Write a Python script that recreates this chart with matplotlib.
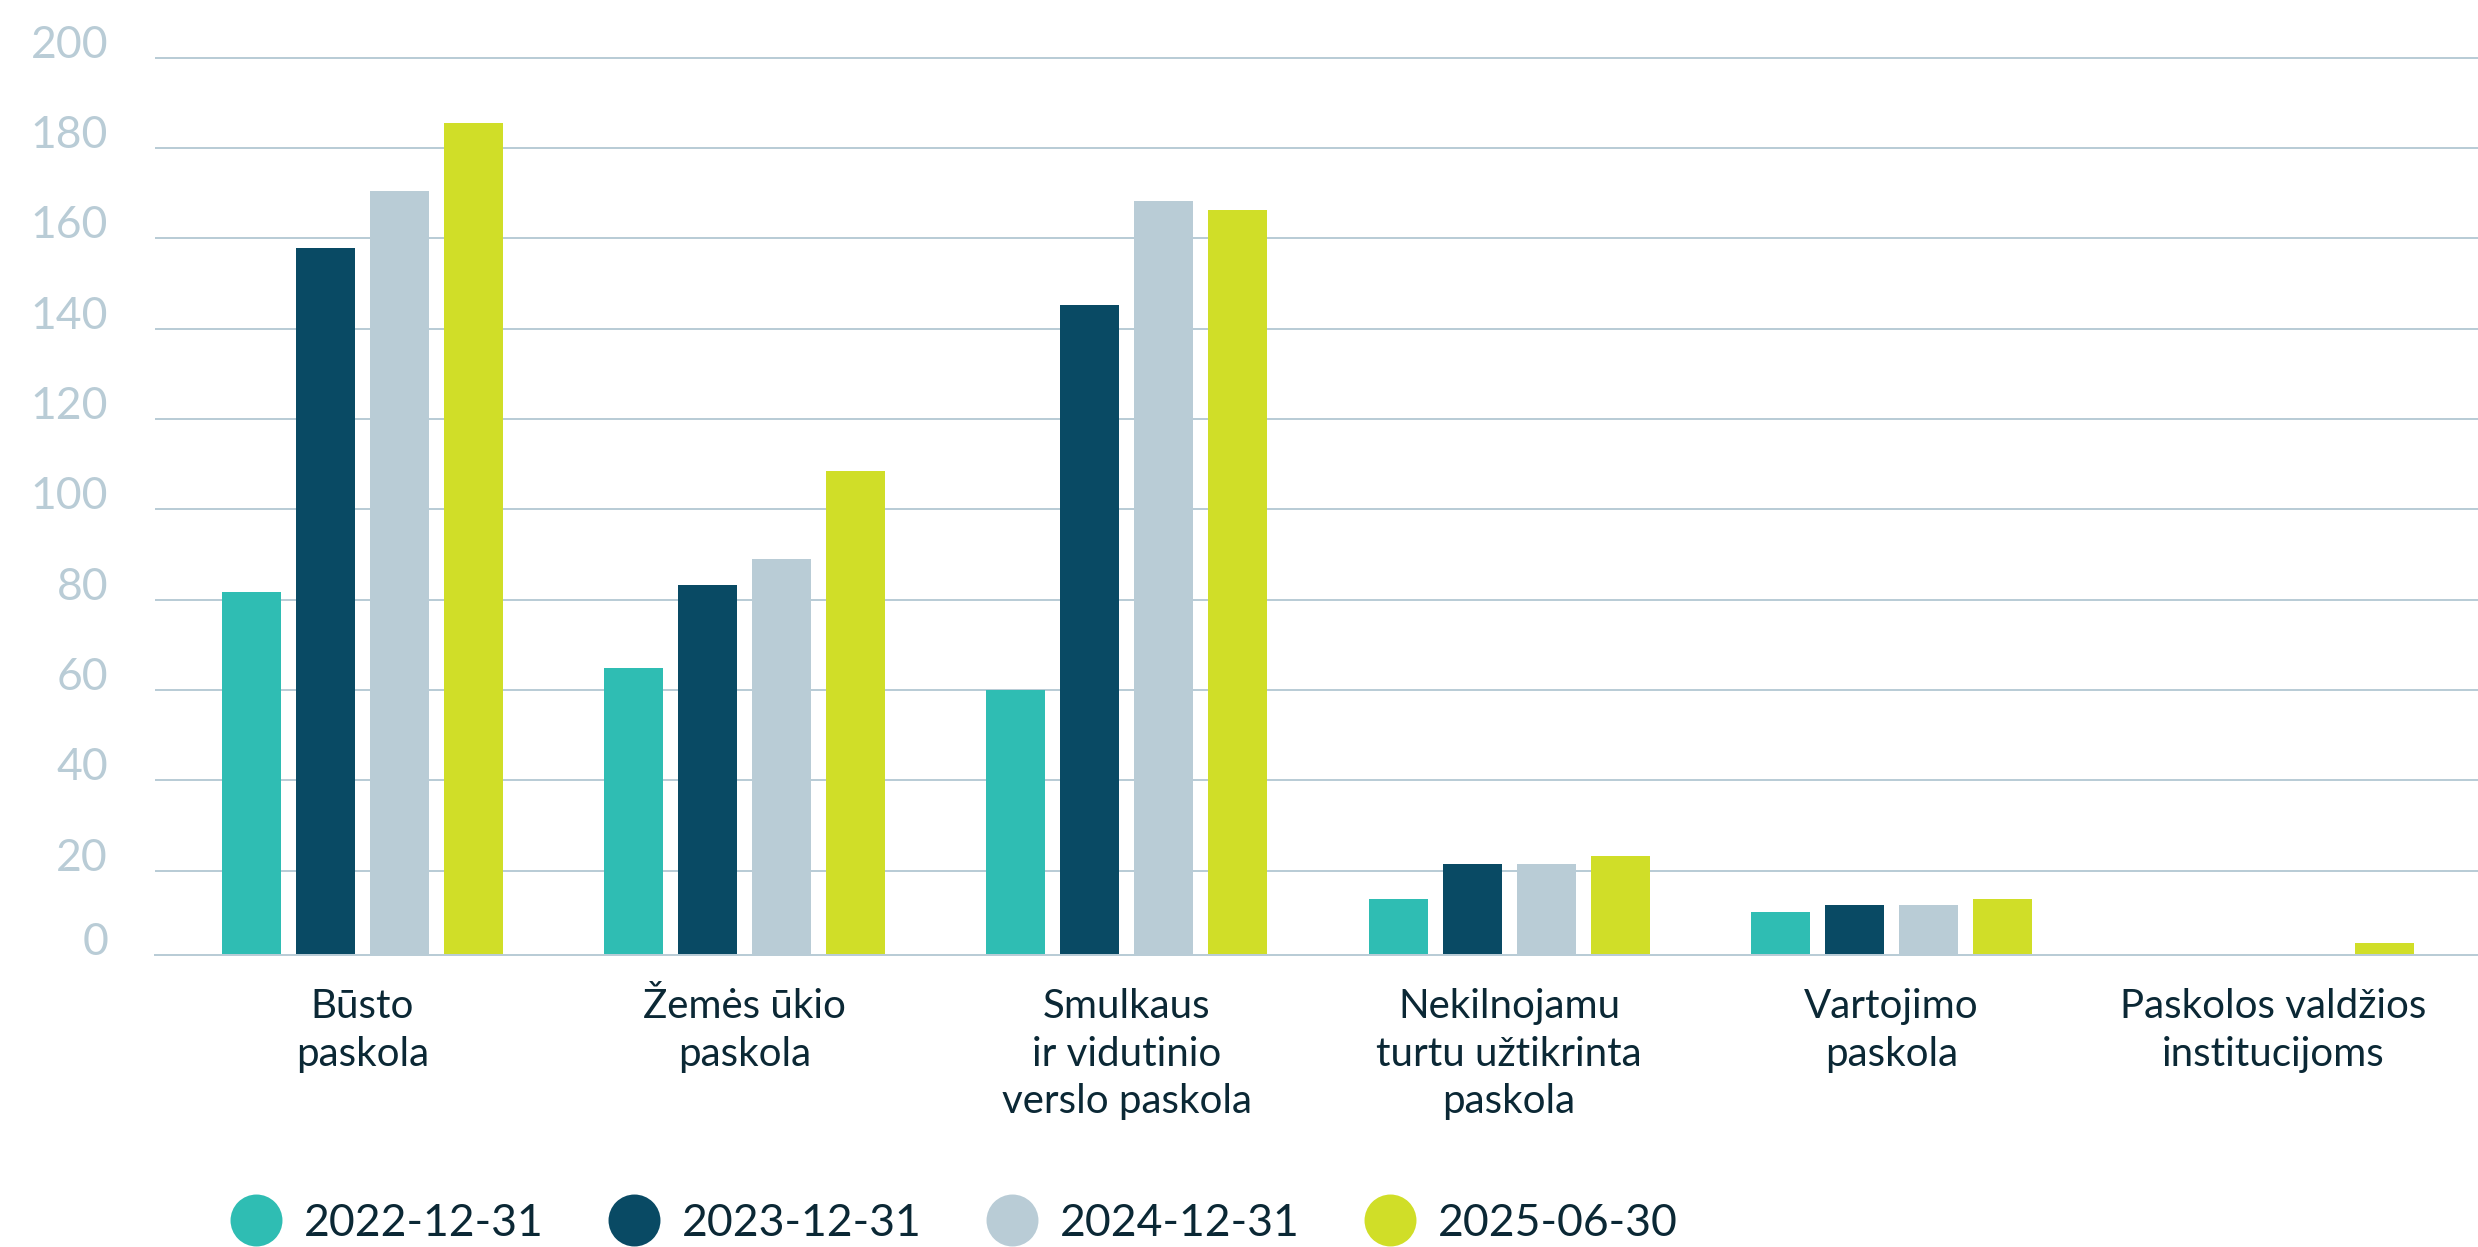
import matplotlib
matplotlib.use('Agg')
import numpy as np
import matplotlib.pyplot as plt
from matplotlib import transforms
from matplotlib.lines import Line2D

plt.rcParams['font.family'] = ['Lato', 'DejaVu Sans']
plt.rcParams['font.weight'] = 'normal'

# duomenys
categories = ['Būsto\npaskola', 'Žemės ūkio\npaskola', 'Smulkaus\nir vidutinio\nverslo paskola',
              'Nekilnojamu\nturtu užtikrinta\npaskola', 'Vartojimo\npaskola',
              'Paskolos valdžios\ninstitucijoms']
series_labels = ['2022-12-31', '2023-12-31', '2024-12-31', '2025-06-30']
v_2022 = [81.6, 64.8, 59.9, 13.7, 10.9, 0]
v_2023 = [157.9, 83.3, 145.2, 21.5, 12.4, 0]
v_2024 = [170.5, 88.9, 168.3, 21.5, 12.4, 0]
v_2025 = [185.5, 108.5, 166.2, 23.3, 13.7, 4.0]
y_ticks = [0, 20, 40, 60, 80, 100, 120, 140, 160, 180, 200]

colors = ['#2FBDB3', '#094A64', '#B9CCD6', '#D0DE28']
grid_col = '#B9CCD6'
text_col = '#0B2835'

fig = plt.figure(figsize=(24.78, 12.47), dpi=100)
ax = fig.add_axes([0.06255, 0.2344, 0.93745, 0.7267])

x = np.arange(len(categories))
width = 0.1544
step = 0.1936
for k, vals in enumerate([v_2022, v_2023, v_2024, v_2025]):
    ax.bar(x + (k - 1.5) * step, vals, width=width, color=colors[k], zorder=2)

ax.set_xlim(-0.543, 5.535)
ax.set_ylim(1.39, 202)

# y asis: etiketes ant linijos
tick_pos = [1.39] + y_ticks[1:]
ax.set_yticks(tick_pos)
ax.set_yticklabels([str(t) for t in y_ticks])
ax.tick_params(axis='y', length=0, pad=33.8, labelsize=32, labelcolor=grid_col)
for lab in ax.get_yticklabels():
    lab.set_verticalalignment('baseline')
ax.grid(axis='y', color=grid_col, linewidth=1.44)
ax.set_axisbelow(True)

ax.set_xticks(x)
ax.set_xticklabels([])
ax.tick_params(axis='x', length=0)

for s in ['left', 'right', 'top']:
    ax.spines[s].set_visible(False)
ax.spines['bottom'].set_color(grid_col)
ax.spines['bottom'].set_linewidth(1.44)

# kategoriju pavadinimai
trans = transforms.blended_transform_factory(ax.transData, ax.transAxes)
y0 = -0.0704
dy = 0.0522
for i, cat in enumerate(categories):
    for j, line in enumerate(cat.split('\n')):
        ax.text(i, y0 - j * dy, line, transform=trans, ha='center', va='baseline',
                fontsize=29, color=text_col)

# legenda
fs = 32
handles = [Line2D([], [], linestyle='none', marker='o', markersize=37.4,
                  markerfacecolor=c, markeredgewidth=0) for c in colors]
renderer = fig.canvas.get_renderer()
tmp = fig.text(0, 0, series_labels[0], fontsize=fs)
w_px = tmp.get_window_extent(renderer).width
tmp.remove()
fs_px = fs * 100 / 72
colsp = max(303.7 - w_px, 10) / fs_px
fig.legend(handles, series_labels, loc='center left', bbox_to_anchor=(230 / 2478, 1 - 1223 / 1247),
           ncol=4, frameon=False, borderpad=0, borderaxespad=0, fontsize=fs,
           handlelength=37.4 / fs, handletextpad=16 / fs, columnspacing=colsp,
           labelcolor=text_col)

fig.savefig('out.png', dpi=100)
